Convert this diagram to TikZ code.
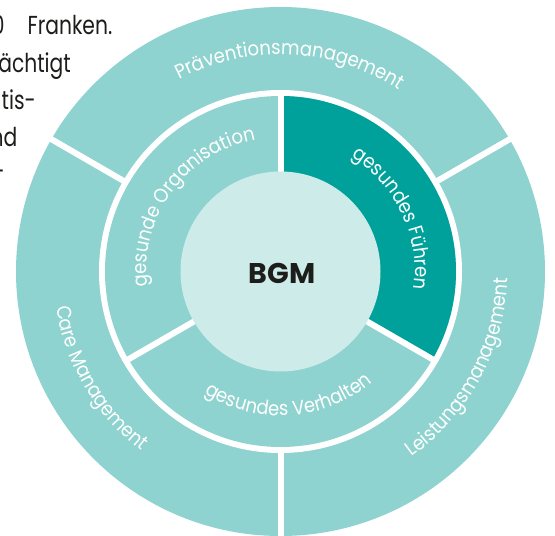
\documentclass[tikz,border=0pt]{standalone}
\usepackage{fontspec}
\setmainfont{Poppins}
\newfontfamily\bodyfont{Poppins}[FakeStretch=0.78]
\newfontfamily\arcfamily{Poppins}[FakeStretch=0.9]
\usetikzlibrary{decorations.text}
\definecolor{ringlight}{HTML}{8ED3CF}
\definecolor{ringdark}{HTML}{00A19A}
\definecolor{core}{HTML}{CCEBE9}
\definecolor{ink}{HTML}{1D1D1B}
\newcommand\lblfont{\arcfamily\fontsize{20}{20}\selectfont}
\begin{document}
\begin{tikzpicture}[x=1pt,y=1pt,
  divider/.style={white, line width=6pt},
  arclabel/.style={decorate, decoration={text along path, text align=center, text color=white, text={|\lblfont|#1}}},
  bodytext/.style={font=\bodyfont\fontsize{26}{26}\selectfont, text=ink, inner sep=0pt, anchor=base east},
]
\useasboundingbox (0,0) rectangle (555,536);
\clip (0,0) rectangle (555,536);
\coordinate (O) at (280.5,264.5);
% rings
\fill[ringlight] (O) circle[radius=264.5];
\fill[white] (O) circle[radius=181.5];
\fill[ringlight] (O) circle[radius=175.5];
\fill[ringdark] (O) -- ([shift={(90:175.5)}]O) arc[start angle=90, end angle=-30, radius=175.5] -- cycle;
% dividers
\foreach \a in {90,210,330}
  \draw[divider] ([shift={(\a:95)}]O) -- ([shift={(\a:177)}]O);
\foreach \a in {30,150,270}
  \draw[divider] ([shift={(\a:179)}]O) -- ([shift={(\a:270)}]O);
% core
\fill[core] (O) circle[radius=100];
\node[font=\bfseries\fontsize{28.5}{30}\selectfont, text=ink] (bgm) at (282,262.5) {BGM};
% outer labels
\path[arclabel={Präventionsmanagement}] ([shift={(147.3:217)}]O) arc[start angle=147.3, end angle=27.3, radius=217];
\path[arclabel={Care Management}] ([shift={(150.6:227)}]O) arc[start angle=150.6, end angle=270.6, radius=227];
\path[arclabel={Leistungsmanagement}] ([shift={(-88.2:227)}]O) arc[start angle=-88.2, end angle=31.8, radius=227];
% middle labels
\path[arclabel={gesunde Organisation}] ([shift={(203.5:134)}]O) arc[start angle=203.5, end angle=83.5, radius=134];
\path[arclabel={gesundes Führen}] ([shift={(85.4:134.5)}]O) arc[start angle=85.4, end angle=-34.6, radius=134.5];
\path[arclabel={gesundes Verhalten}] ([shift={(213.9:144)}]O) arc[start angle=213.9, end angle=333.9, radius=144];
% cropped body text at top left
\node[bodytext] (t0) at (4.8,501) {0};
\node[bodytext] (t1) at (112.5,501) {Franken.};
\node[bodytext] (t2) at (71,463.3) {ächtigt};
\node[bodytext] (t3) at (36,426) {ntis-};
\node[bodytext] (t4) at (17.5,389.3) {nd};
\node[bodytext] (t5) at (5,355) {-};
\end{tikzpicture}
\end{document}
